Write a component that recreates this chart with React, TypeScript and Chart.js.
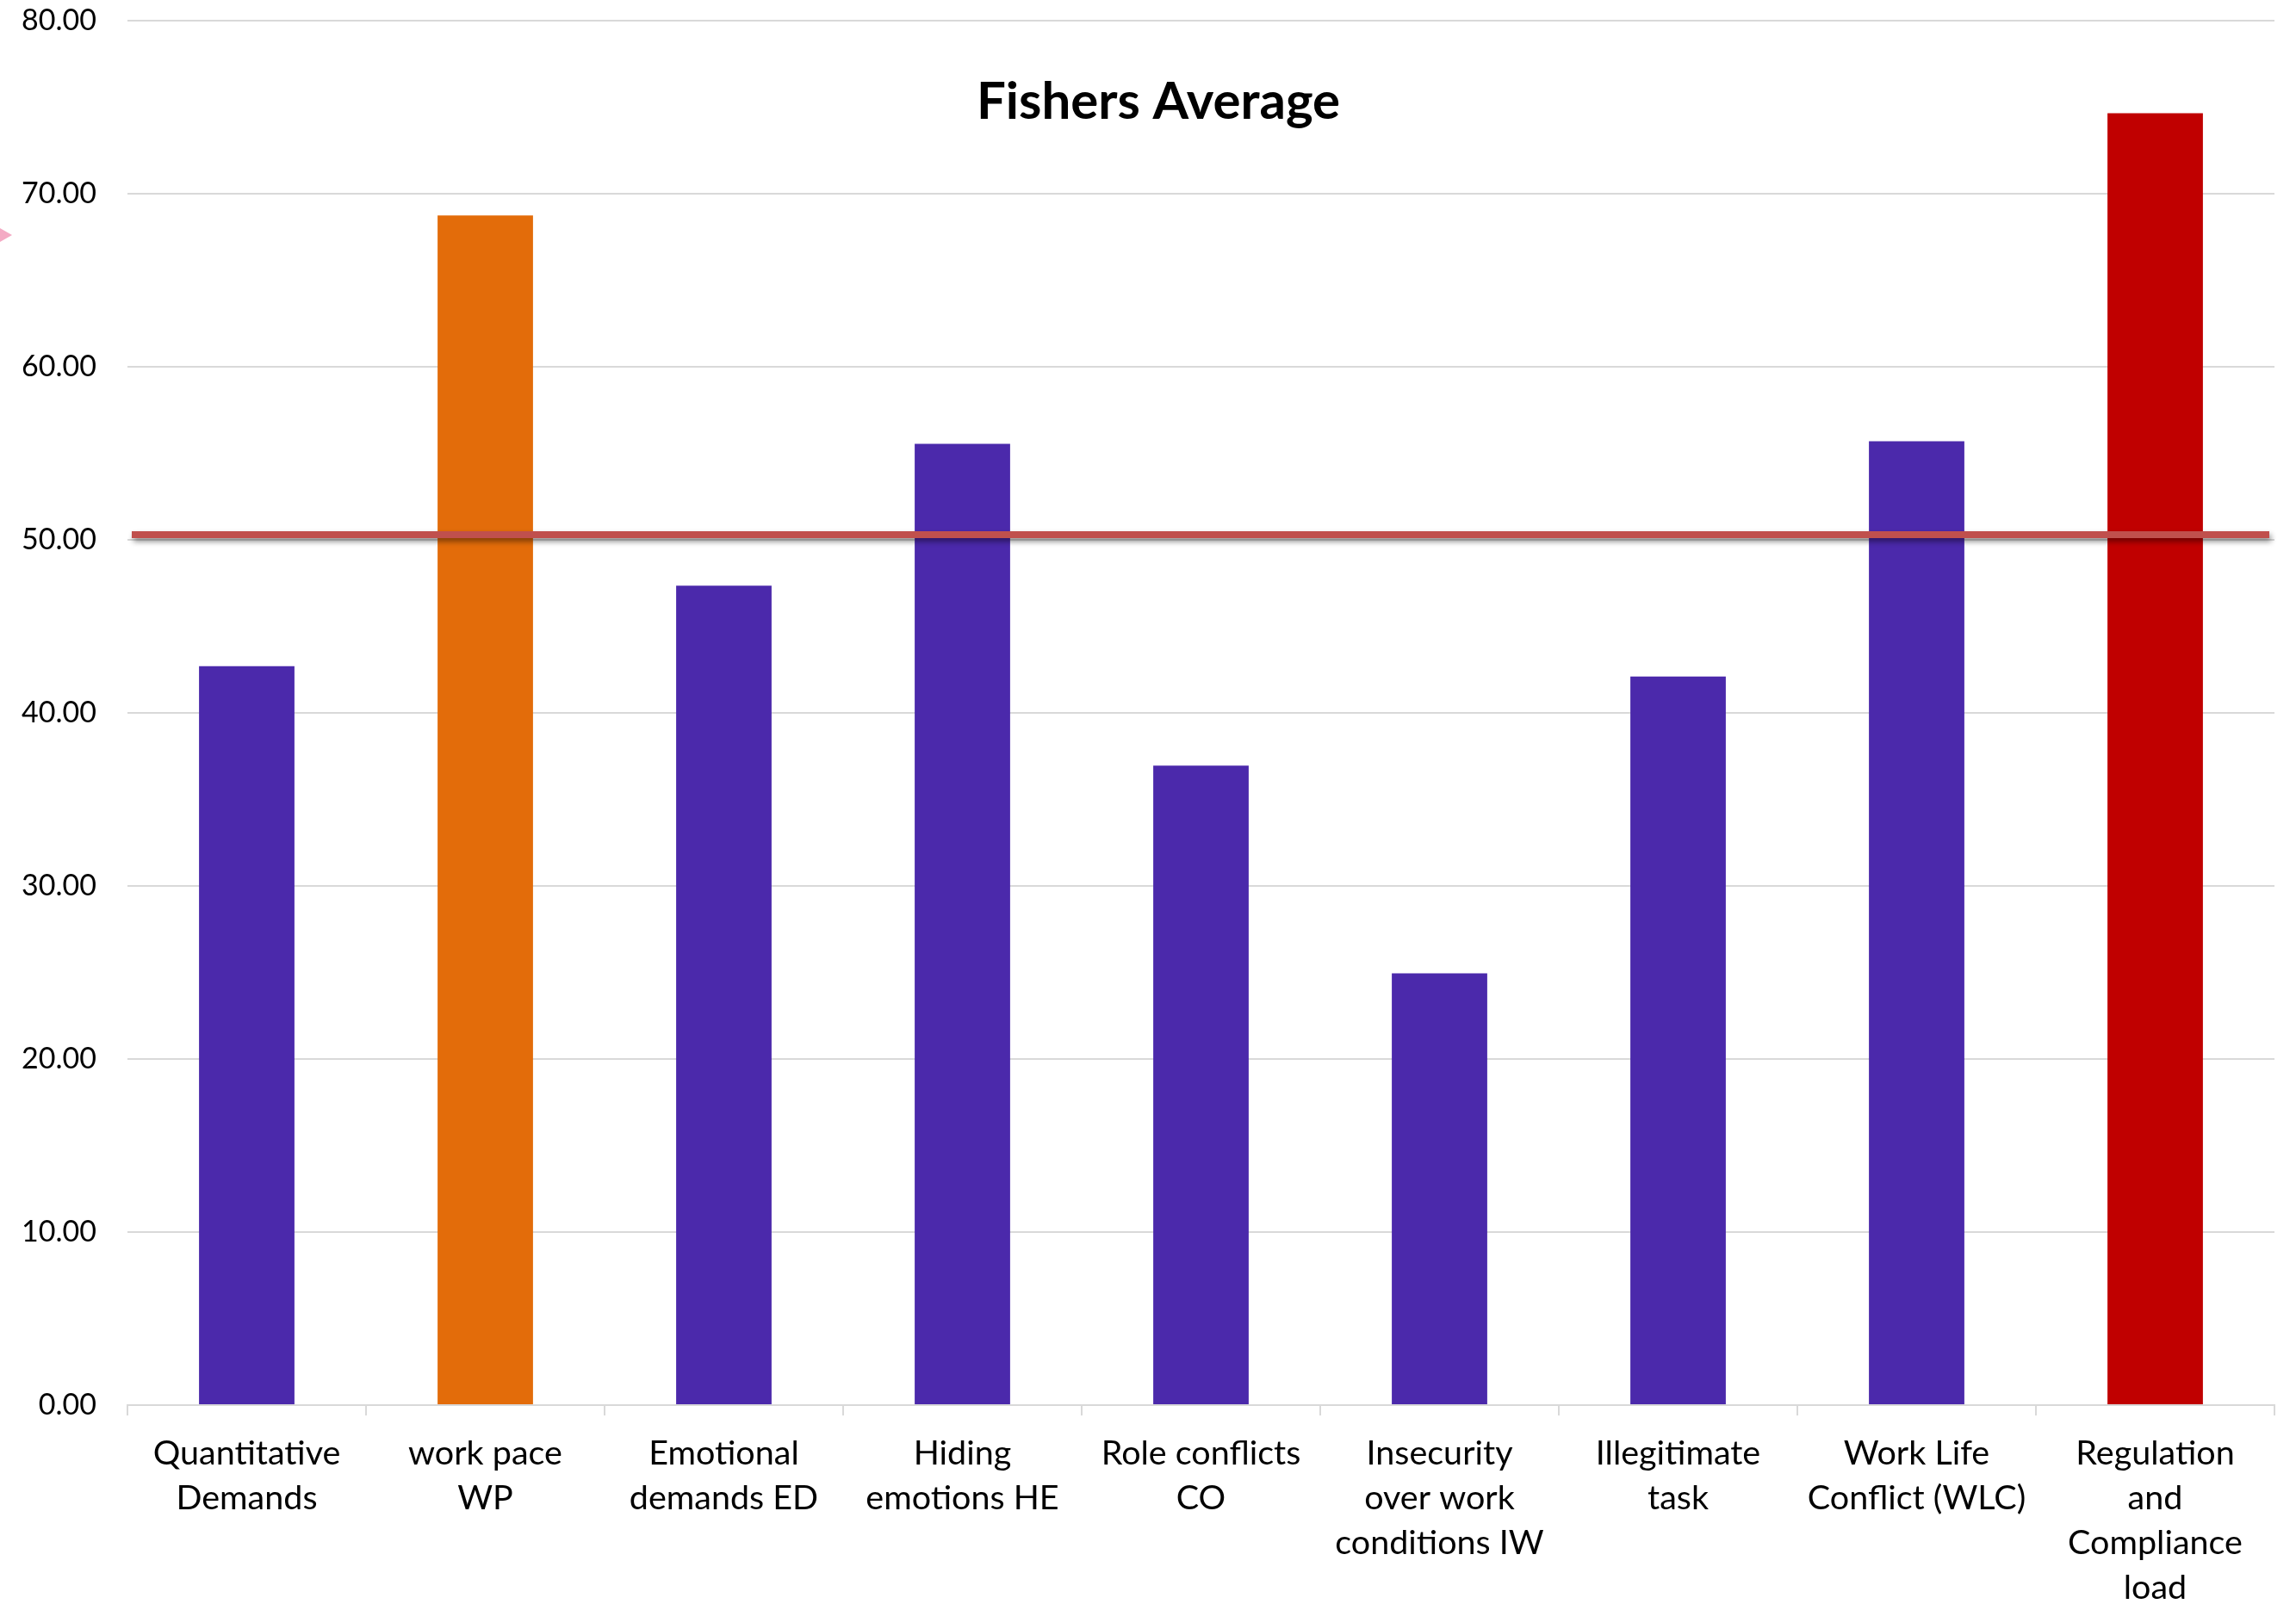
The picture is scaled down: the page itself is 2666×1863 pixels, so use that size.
import { useEffect, useRef } from "react";
import { Chart, registerables } from "chart.js";

Chart.register(...registerables);

// Psychosocial risk dimensions (multi-line labels as drawn under the axis)
const categories: string[][] = [
  ["Quantitative", "Demands"],
  ["work pace", "WP"],
  ["Emotional", "demands ED"],
  ["Hiding", "emotions HE"],
  ["Role conflicts", "CO"],
  ["Insecurity", "over work", "conditions IW"],
  ["Illegitimate", "task"],
  ["Work Life", "Conflict (WLC)"],
  ["Regulation", "and", "Compliance", "load"],
];

// Average score of the fishers for each dimension
const fisherScores: number[] = [42.7, 68.75, 47.35, 55.55, 36.95, 24.95, 42.1, 55.7, 74.65];

// Bar fill per dimension: highlighted ones in orange / red
const barColors: string[] = [
  "#4B29AB",
  "#E36C0A",
  "#4B29AB",
  "#4B29AB",
  "#4B29AB",
  "#4B29AB",
  "#4B29AB",
  "#4B29AB",
  "#C00000",
];

// Reference level drawn across the whole plot
const referenceLevel = 50.3;

// Value axis range
const yMin = 0;
const yMax = 80;
const yStep = 10;

const chartTitle = "Fishers Average";

const FONT = "Lato, 'Open Sans', 'DejaVu Sans', sans-serif";

const overlayPlugin = {
  id: "fishersOverlay",
  afterDatasetsDraw(chart: any) {
    const { ctx, chartArea } = chart;
    const yScale = chart.scales.y;

    // reference line with a soft drop shadow
    const y = yScale.getPixelForValue(referenceLevel);
    ctx.save();
    ctx.strokeStyle = "#C0504D";
    ctx.lineWidth = 8;
    ctx.shadowColor = "rgba(0,0,0,0.45)";
    ctx.shadowBlur = 6;
    ctx.shadowOffsetX = 2;
    ctx.shadowOffsetY = 4;
    ctx.beginPath();
    ctx.moveTo(chartArea.left + 5, y);
    ctx.lineTo(chartArea.right - 6, y);
    ctx.stroke();
    ctx.restore();

    // chart heading placed inside the plot
    ctx.save();
    ctx.fillStyle = "#000000";
    ctx.font = `bold 60px ${FONT}`;
    ctx.textAlign = "center";
    ctx.textBaseline = "middle";
    ctx.fillText(chartTitle, chart.width / 2 + 12, chartArea.top + 95);
    ctx.restore();

    // small pink pointer on the left edge
    ctx.save();
    ctx.fillStyle = "#F4AAC4";
    ctx.beginPath();
    ctx.moveTo(0, 265);
    ctx.lineTo(14, 273);
    ctx.lineTo(0, 281);
    ctx.closePath();
    ctx.fill();
    ctx.restore();
  },
};

export default function App() {
  const canvasRef = useRef<HTMLCanvasElement | null>(null);

  useEffect(() => {
    if (!canvasRef.current) return;
    const chart = new Chart(canvasRef.current, {
      type: "bar",
      data: {
        labels: categories,
        datasets: [
          {
            data: fisherScores,
            backgroundColor: barColors,
            borderWidth: 0,
            barPercentage: 0.4,
            categoryPercentage: 1,
          },
        ],
      },
      options: {
        animation: false,
        responsive: true,
        maintainAspectRatio: false,
        layout: { padding: { top: 24, right: 25, left: 0, bottom: 0 } },
        plugins: {
          legend: { display: false },
          title: { display: false },
          tooltip: { enabled: false },
        },
        scales: {
          x: {
            grid: {
              display: true,
              drawOnChartArea: false,
              drawTicks: true,
              tickLength: 12,
              color: "#D9D9D9",
              lineWidth: 2,
              offset: true,
            },
            border: { display: true, color: "#D9D9D9", width: 2 },
            ticks: {
              autoSkip: false,
              maxRotation: 0,
              minRotation: 0,
              padding: 18,
              color: "#000000",
              font: { family: FONT, size: 39.5, lineHeight: 1.32 },
            },
            afterFit(scale: any) {
              scale.height = 231;
            },
          },
          y: {
            min: yMin,
            max: yMax,
            grid: {
              color: "#D9D9D9",
              lineWidth: 2,
              drawTicks: false,
            },
            border: { display: false },
            ticks: {
              stepSize: yStep,
              padding: 36,
              color: "#000000",
              font: { family: FONT, size: 34 },
              callback: (v: any) => Number(v).toFixed(2),
            },
            afterFit(scale: any) {
              scale.width = 148;
              scale.paddingTop = 20;
              scale.paddingBottom = 20;
            },
          },
        },
      },
      plugins: [overlayPlugin],
    });
    return () => chart.destroy();
  }, []);

  return (
    <div style={{ position: "fixed", inset: 0, background: "#FFFFFF" }}>
      <canvas ref={canvasRef} />
    </div>
  );
}
